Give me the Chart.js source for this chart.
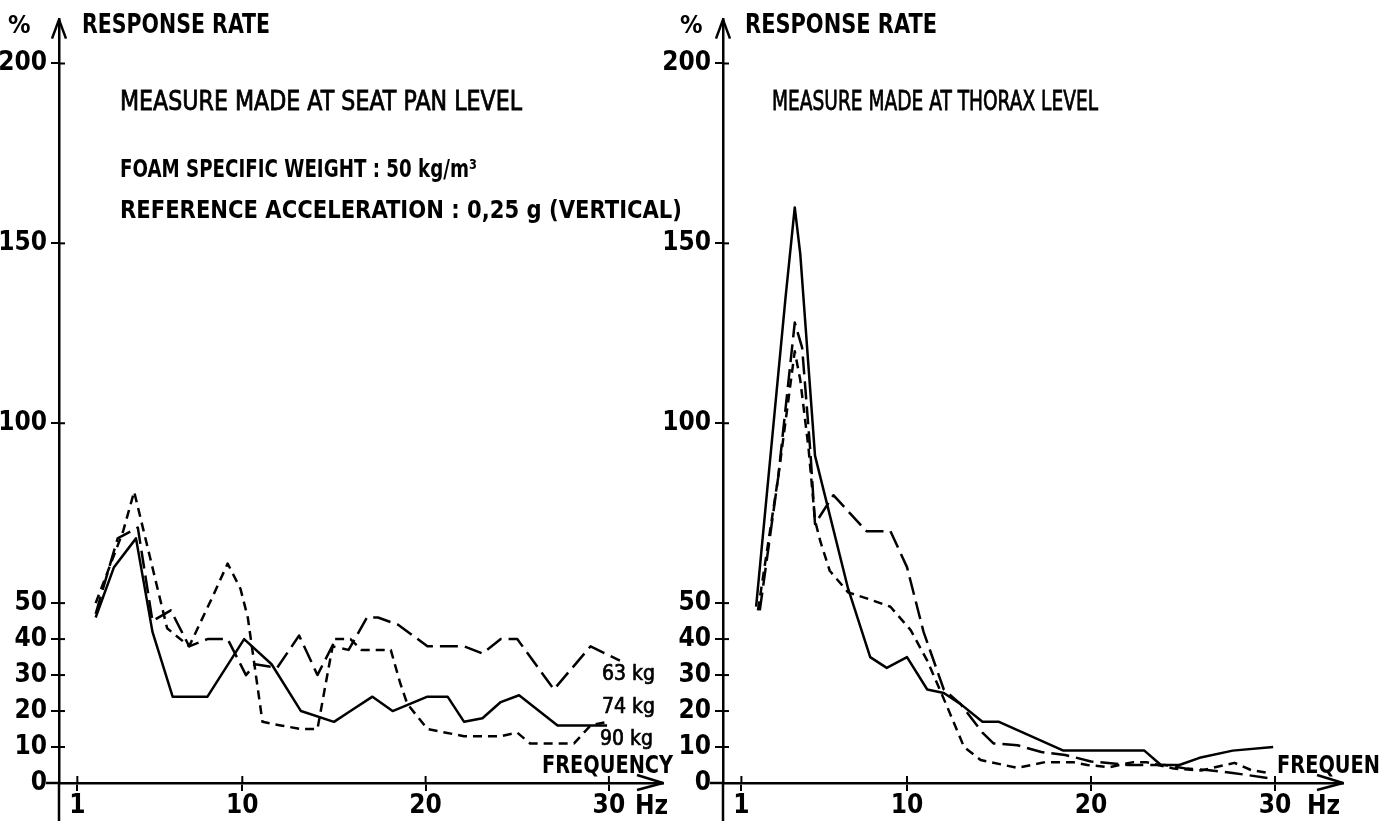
<!DOCTYPE html>
<html><head><meta charset="utf-8">
<script src="https://cdn.jsdelivr.net/npm/chart.js@4.4.1/dist/chart.umd.min.js"></script>
<style>
html,body{margin:0;padding:0;background:#fff;width:1397px;height:821px;overflow:hidden}
.w{position:absolute;top:0;height:821px}
#wl{left:0;width:700px}
#wr{left:660px;width:737px}
canvas{display:block}
</style></head><body>
<div class="w" id="wl"><canvas id="cl"></canvas></div>
<div class="w" id="wr"><canvas id="cr"></canvas></div>
<script>
// ---- data (frequency Hz, response rate %) ----
const yTicks = [0, 10, 20, 30, 40, 50, 100, 150, 200];
const xTicks = [1, 10, 20, 30];
const seriesLabels = ['63 kg', '74 kg', '90 kg'];

// Seat pan level
const seat63 = [[2.0,47],[3.2,68],[4.3,71],[5.1,45],[6.1,48],[7.1,38],[8.1,40],[9.2,40],[10.2,30],[10.7,33],[11.9,32],[13.1,41],[14.1,30],[14.9,38],[15.8,37],[16.8,46],[17.4,46],[18.5,44],[20.1,38],[22.1,38],[23.1,36],[24.1,40],[25.0,40],[27.0,26],[29.0,38],[30.6,34]];
const seat74 = [[2.0,46],[3.0,60],[4.2,68],[5.1,42],[6.2,24],[8.1,24],[10.1,40],[11.6,33],[13.2,20],[15.0,17],[15.9,20],[17.1,24],[18.2,20],[20.1,24],[21.2,24],[22.1,17],[23.1,18],[24.1,22.5],[25.1,24.4],[27.2,16],[29.9,16]];
const seat90 = [[2.0,50],[3.5,70],[4.1,81],[5.9,43],[7.1,38],[8.4,52],[9.2,61],[9.9,54],[10.3,46],[11.1,17],[12.1,16],[13.2,15],[14.1,15],[14.6,29],[15.0,40],[15.9,40],[16.5,37],[18.1,37],[18.6,28],[19.0,22],[20.1,15],[22.1,13],[24.1,13],[25.0,14],[25.7,11],[28.1,11],[29.0,16],[29.9,17]];

// Thorax level
const thor63 = [[2.0,48],[3.0,85],[3.9,128],[4.3,121],[4.75,92],[5.0,72],[6.0,80],[7.8,70],[9.1,70],[10.0,60],[10.9,42],[12.0,26],[12.9,22],[14.1,14],[14.7,11],[16.0,10.5],[17.3,8.6],[18.6,7.8],[20.0,6],[22.0,5],[24.0,5],[25.2,4],[26.3,3.6],[27.7,2.8],[29.6,1.4]];
const thor74 = [[1.8,49],[3.4,135],[3.9,160],[4.2,147],[5.0,91],[6.8,54],[8.0,35],[8.9,32],[10.0,35],[11.1,26],[12.0,25],[12.9,22],[14.1,17],[15.0,17],[18.5,9],[22.9,9],[23.8,5],[24.8,5],[25.9,7],[27.7,9],[29.9,10]];
const thor90 = [[1.9,48],[3.0,85],[3.9,120],[4.2,112],[4.65,93],[5.0,73],[5.3,67],[5.8,59],[6.8,53],[8.0,51],[9.1,49],[10.2,42.5],[11.1,34],[12.2,21],[13.1,10],[14.0,6.4],[16.0,4.2],[17.5,5.8],[19.0,5.8],[19.8,5],[21.0,4.4],[22.3,5.8],[23.0,5.8],[24.5,4],[26.0,3.5],[27.8,5.6],[28.7,3.6],[29.6,2.8]];

const FONT = "'DejaVu Sans Condensed', 'DejaVu Sans', sans-serif";
const FONT_W = "'DejaVu Sans', sans-serif";
const dashes = {'63 kg':[18,7], '74 kg':[], '90 kg':[9,6]};

function ds(label, pts){
  return {label, data: pts.map(p=>({x:p[0], y:p[1]})), borderColor:'#000', borderWidth:2.5,
    borderDash: dashes[label], pointRadius:0, tension:0, fill:false, borderCapStyle:'butt', borderJoinStyle:'round'};
}

function line(ctx,x1,y1,x2,y2){ctx.beginPath();ctx.moveTo(x1,y1);ctx.lineTo(x2,y2);ctx.stroke();}
// [text, x, baseline, size, weight, maxWidth, family, strokeWidth]
function txt(ctx,s,x,y,size,weight,maxW,fam,sw){
  ctx.font = weight+' '+size+'px '+(fam||FONT);
  ctx.textAlign='left'; ctx.textBaseline='alphabetic'; ctx.fillStyle='#000'; ctx.strokeStyle='#000';
  if(maxW){ ctx.fillText(s,x,y,maxW); if(sw){ctx.lineWidth=sw; ctx.strokeText(s,x,y,maxW);} }
  else { ctx.fillText(s,x,y); if(sw){ctx.lineWidth=sw; ctx.strokeText(s,x,y);} }
}

function decoPlugin(offset, texts){
  return {id:'deco'+offset, afterDraw(chart){
    const {ctx, chartArea:a, scales:{x, y}} = chart;
    const x0 = x.getPixelForValue(0), y0 = y.getPixelForValue(0);
    ctx.save();
    ctx.strokeStyle='#000'; ctx.lineWidth=2.5; ctx.lineCap='butt';
    line(ctx, x0, a.bottom, x0, chart.height);       // axis continues below origin
    line(ctx, x0-13, y0, x0, y0);                     // axis continues left of origin
    // arrow heads
    line(ctx, x0-7, a.top+19, x0, a.top); line(ctx, x0+7, a.top+19, x0, a.top);
    line(ctx, a.right-26, y0-8, a.right, y0); line(ctx, a.right-26, y0+7, a.right, y0);
    // inner half of tick marks
    ctx.lineWidth=2;
    yTicks.forEach(v=>{const py=y.getPixelForValue(v); line(ctx,x0,py,x0+6,py);});
    xTicks.forEach(v=>{const px=x.getPixelForValue(v); line(ctx,px,y0,px,y0-7);});
    ctx.translate(-offset,0);
    texts.forEach(t=>txt(ctx, ...t));
    ctx.restore();
  }};
}

function makeChart(id, sets, cfg){
  return new Chart(document.getElementById(id), {
    type:'line',
    data:{datasets: sets},
    options:{
      responsive:true, maintainAspectRatio:false, animation:false,
      layout:{padding:{top:19, right:cfg.padRight, left:0, bottom:0}},
      plugins:{legend:{display:false}, tooltip:{enabled:false}},
      scales:{
        x:{type:'linear', min:0, max:cfg.xmax, position:'bottom',
          afterFit:s=>{s.height=38;},
          afterBuildTicks:s=>{s.ticks=xTicks.map(v=>({value:v}));},
          grid:{display:true, drawOnChartArea:false, drawTicks:true, tickLength:8, color:'#000', lineWidth:2},
          border:{display:true, color:'#000', width:2.5},
          ticks:{font:{family:FONT, size:26, weight:'bold'}, color:'#000', padding:0, maxRotation:0, autoSkip:false}
        },
        y:{type:'linear', min:0, max:212.2, position:'left',
          afterFit:s=>{s.width=cfg.yw;},
          afterBuildTicks:s=>{s.ticks=yTicks.map(v=>({value:v}));},
          grid:{display:true, drawOnChartArea:false, drawTicks:true, tickLength:8, color:'#000', lineWidth:2},
          border:{display:true, color:'#000', width:2.5},
          ticks:{font:{family:FONT, size:26, weight:'bold'}, color:'#000', padding:4, autoSkip:false}
        }
      }
    },
    plugins:[decoPlugin(cfg.offset, cfg.texts)]
  });
}

makeChart('cl', [ds('63 kg',seat63), ds('74 kg',seat74), ds('90 kg',seat90)], {
  padRight: 700-663, xmax: (663-59)/18.33, yw: 59, offset: 0,
  texts: [
    ['%', 8, 33, 25, 'bold'],
    ['RESPONSE RATE', 82, 33, 26, 'bold', 188],
    ['MEASURE MADE AT SEAT PAN LEVEL', 120, 110, 26, 'normal', 402, FONT_W, 0.8],
    ['FOAM SPECIFIC WEIGHT : 50 kg/m³', 120, 177, 25, 'bold', 357],
    ['REFERENCE ACCELERATION : 0,25 g (VERTICAL)', 120, 218, 25, 'bold', 562],
    [seriesLabels[0], 602, 680, 21, 'normal', 61, FONT, 0.7],
    [seriesLabels[1], 602, 713, 21, 'normal', 61, FONT, 0.7],
    [seriesLabels[2], 600, 745, 21, 'normal', 61, FONT, 0.7],
    ['FREQUENCY', 542, 773, 24, 'bold', 131],
    ['Hz', 635, 814, 26, 'bold', 36]
  ]
});

makeChart('cr', [ds('63 kg',thor63), ds('74 kg',thor74), ds('90 kg',thor90)], {
  padRight: 737-(1343-660), xmax: (1343-723)/18.4, yw: 63, offset: 660,
  texts: [
    ['%', 680, 33, 25, 'bold'],
    ['RESPONSE RATE', 745, 33, 26, 'bold', 192],
    ['MEASURE MADE AT THORAX LEVEL', 772, 110, 26, 'normal', 326, FONT_W, 0.8],
    ['FREQUEN', 1277, 773, 24, 'bold', 103],
    ['Hz', 1307, 814, 26, 'bold', 36]
  ]
});
</script>
</body></html>
